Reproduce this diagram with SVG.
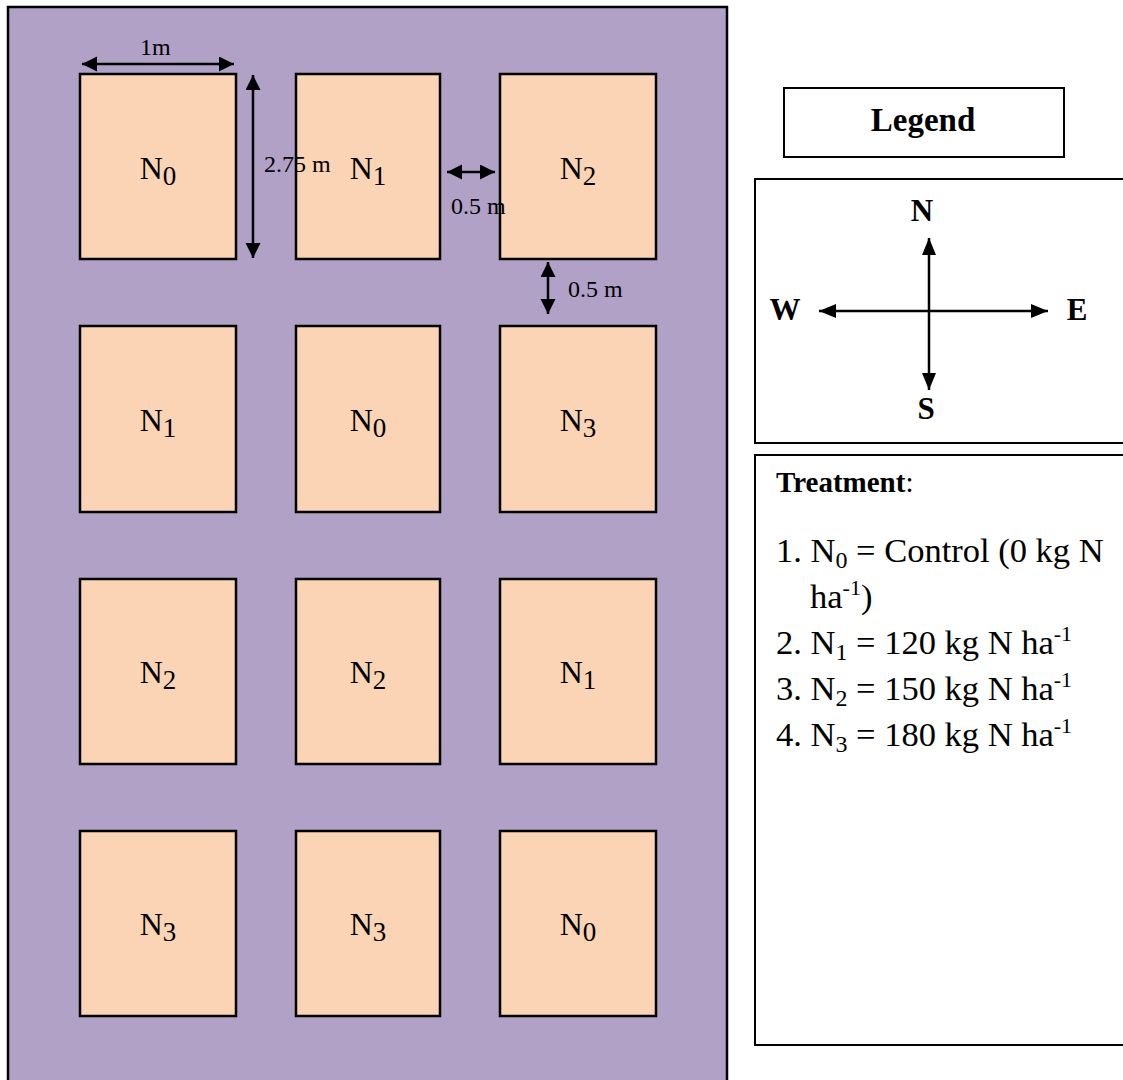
<svg xmlns="http://www.w3.org/2000/svg" width="1123" height="1080" viewBox="0 0 1123 1080">
<style>
.plot{fill:#FAD4B4;stroke:#000;stroke-width:2.5}
.lbl{font-family:"Liberation Serif","Times New Roman",serif;font-size:32px;fill:#000;text-anchor:middle}
.dim{font-family:"Liberation Serif","Times New Roman",serif;font-size:24px;fill:#000}
.ln{stroke:#000;stroke-width:2.5;fill:none}
.box{fill:#fff;stroke:#000;stroke-width:2}
.b{font-family:"Liberation Serif","Times New Roman",serif;font-weight:bold;fill:#000}
.t{font-family:"Liberation Serif","Times New Roman",serif;font-size:34.5px;fill:#000}
</style>
<defs>
<marker id="ah" markerUnits="userSpaceOnUse" markerWidth="16" markerHeight="16" refX="15" refY="7.5" orient="auto-start-reverse">
<path d="M0,0 L15,7.5 L0,15 z" fill="#000"/>
</marker>
<marker id="ahc" markerUnits="userSpaceOnUse" markerWidth="18" markerHeight="16" refX="17" refY="7" orient="auto-start-reverse">
<path d="M0,0 L17,7 L0,14 z" fill="#000"/>
</marker>
</defs>
<rect width="1123" height="1080" fill="#fff"/>
<g id="field">
<rect x="8" y="7" width="719" height="1090" fill="#B1A1C7" stroke="#000" stroke-width="2.5"/>
</g>
<g id="plots">
<g id="p11"><rect class="plot" x="80" y="74" width="156" height="185"/><text class="lbl" x="158" y="179">N<tspan dy="6" font-size="27">0</tspan></text></g>
<g id="p12"><rect class="plot" x="296" y="74" width="144" height="185"/><text class="lbl" x="368" y="179">N<tspan dy="6" font-size="27">1</tspan></text></g>
<g id="p13"><rect class="plot" x="500" y="74" width="156" height="185"/><text class="lbl" x="578" y="179">N<tspan dy="6" font-size="27">2</tspan></text></g>
<g id="p21"><rect class="plot" x="80" y="326" width="156" height="186"/><text class="lbl" x="158" y="431">N<tspan dy="6" font-size="27">1</tspan></text></g>
<g id="p22"><rect class="plot" x="296" y="326" width="144" height="186"/><text class="lbl" x="368" y="431">N<tspan dy="6" font-size="27">0</tspan></text></g>
<g id="p23"><rect class="plot" x="500" y="326" width="156" height="186"/><text class="lbl" x="578" y="431">N<tspan dy="6" font-size="27">3</tspan></text></g>
<g id="p31"><rect class="plot" x="80" y="579" width="156" height="185"/><text class="lbl" x="158" y="683">N<tspan dy="6" font-size="27">2</tspan></text></g>
<g id="p32"><rect class="plot" x="296" y="579" width="144" height="185"/><text class="lbl" x="368" y="683">N<tspan dy="6" font-size="27">2</tspan></text></g>
<g id="p33"><rect class="plot" x="500" y="579" width="156" height="185"/><text class="lbl" x="578" y="683">N<tspan dy="6" font-size="27">1</tspan></text></g>
<g id="p41"><rect class="plot" x="80" y="831" width="156" height="185"/><text class="lbl" x="158" y="935">N<tspan dy="6" font-size="27">3</tspan></text></g>
<g id="p42"><rect class="plot" x="296" y="831" width="144" height="185"/><text class="lbl" x="368" y="935">N<tspan dy="6" font-size="27">3</tspan></text></g>
<g id="p43"><rect class="plot" x="500" y="831" width="156" height="185"/><text class="lbl" x="578" y="935">N<tspan dy="6" font-size="27">0</tspan></text></g>
</g>
<g id="legend">
<rect class="box" x="784" y="88" width="280" height="69"/>
<text class="b" x="923" y="131" font-size="33" text-anchor="middle">Legend</text>
</g>
<g id="compass">
<rect class="box" x="755" y="179" width="380" height="264"/>
<text class="b" x="922" y="221" font-size="31" text-anchor="middle">N</text>
<text class="b" x="926" y="419" font-size="31" text-anchor="middle">S</text>
<text class="b" x="785" y="320" font-size="31" text-anchor="middle">W</text>
<text class="b" x="1077" y="320" font-size="31" text-anchor="middle">E</text>
</g>
<g id="treatment">
<rect class="box" x="755" y="455" width="380" height="590"/>
<text class="b" x="776" y="492" font-size="29">Treatment<tspan font-weight="normal">:</tspan></text>
<text class="t" x="776" y="562">1. N<tspan dy="6" font-size="24">0</tspan><tspan dy="-6"> = Control (0 kg N</tspan></text>
<text class="t" x="810" y="608">ha<tspan dy="-13" font-size="22">-1</tspan><tspan dy="13">)</tspan></text>
<text class="t" x="776" y="654">2. N<tspan dy="6" font-size="24">1</tspan><tspan dy="-6"> = 120 kg N ha</tspan><tspan dy="-13" font-size="22">-1</tspan></text>
<text class="t" x="776" y="700">3. N<tspan dy="6" font-size="24">2</tspan><tspan dy="-6"> = 150 kg N ha</tspan><tspan dy="-13" font-size="22">-1</tspan></text>
<text class="t" x="776" y="746">4. N<tspan dy="6" font-size="24">3</tspan><tspan dy="-6"> = 180 kg N ha</tspan><tspan dy="-13" font-size="22">-1</tspan></text>
</g>
<g id="connectors">
<line class="ln" x1="82" y1="64" x2="234" y2="64" marker-start="url(#ah)" marker-end="url(#ah)"/>
<line class="ln" x1="253" y1="75" x2="253" y2="258" marker-start="url(#ah)" marker-end="url(#ah)"/>
<line class="ln" x1="447" y1="172" x2="495" y2="172" marker-start="url(#ah)" marker-end="url(#ah)"/>
<line class="ln" x1="548" y1="262" x2="548" y2="314" marker-start="url(#ah)" marker-end="url(#ah)"/>
<line class="ln" x1="929" y1="238" x2="929" y2="390" marker-start="url(#ahc)" marker-end="url(#ahc)"/>
<line class="ln" x1="819" y1="311" x2="1048" y2="311" marker-start="url(#ahc)" marker-end="url(#ahc)"/>
</g>
<g id="dim-labels">
<text class="dim" x="140" y="55">1m</text>
<text class="dim" x="264" y="172">2.75 m</text>
<text class="dim" x="451" y="214">0.5 m</text>
<text class="dim" x="568" y="297">0.5 m</text>
</g>
</svg>
